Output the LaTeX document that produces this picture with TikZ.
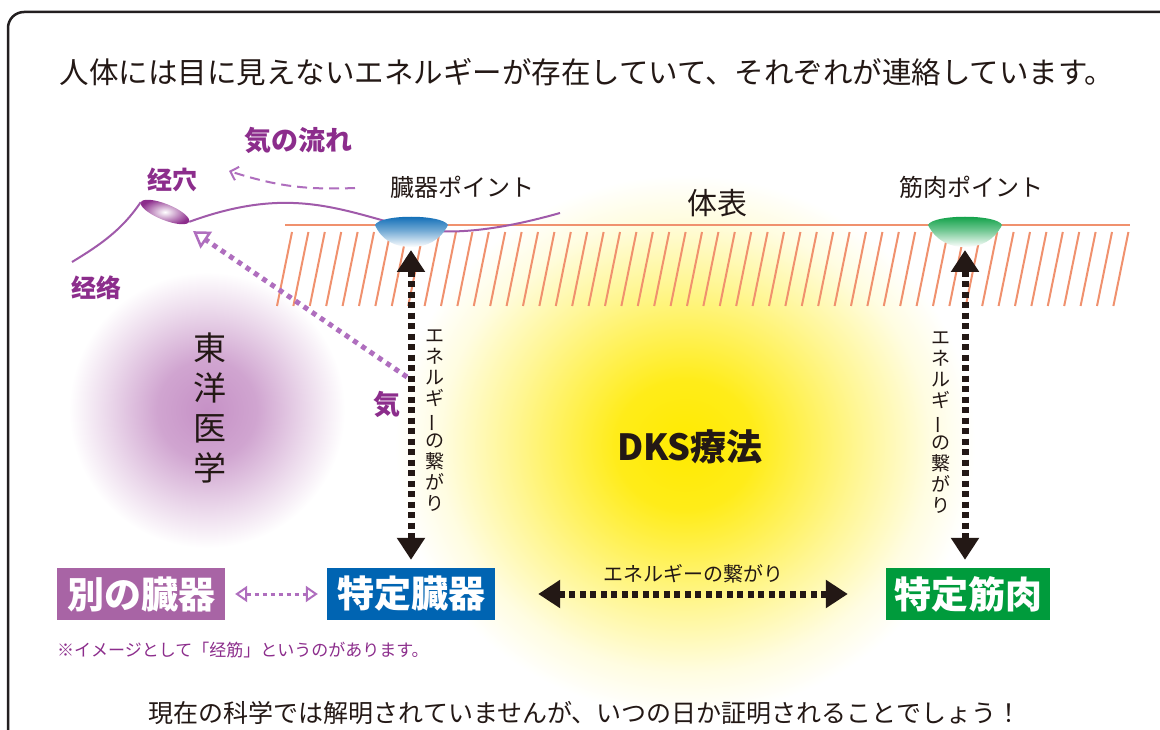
\documentclass[tikz,border=0pt]{standalone}
\usepackage{fontspec}
\setmainfont{Noto Sans CJK JP}
\usetikzlibrary{arrows.meta,shapes.geometric}
\definecolor{framegray}{RGB}{35, 31, 32}
\definecolor{skin}{RGB}{240, 145, 110}
\definecolor{meridian}{RGB}{160, 90, 170}
\definecolor{kipurple}{RGB}{140, 45, 140}
\definecolor{kiviolet}{RGB}{175, 110, 190}
\definecolor{organblue}{RGB}{0, 100, 178}
\definecolor{musclegreen}{RGB}{0, 155, 60}
\definecolor{otherpurple}{RGB}{168, 100, 165}
\definecolor{dksyellow}{RGB}{255, 234, 0}
\definecolor{glowpurple}{RGB}{198, 145, 198}
\definecolor{inkblack}{RGB}{35, 24, 21}
\pgfdeclareradialshading{dksglow}{\pgfpointorigin}{color(0bp)=(dksyellow); color(6bp)=(dksyellow!90); color(15bp)=(dksyellow!42); color(21bp)=(dksyellow!12); color(25bp)=(white); color(50bp)=(white)}
\pgfdeclareradialshading{toyoglow}{\pgfpointorigin}{color(0bp)=(glowpurple); color(9bp)=(glowpurple!82); color(18bp)=(glowpurple!35); color(25bp)=(white); color(50bp)=(white)}
\newcommand\tatebou{\rotatebox[origin=c]{90}{ー}}
\newcommand\fsz[1]{\fontsize{#1}{#1}\selectfont}
\tikzset{
  hatchline/.style={skin, line width=2pt},
  meridianline/.style={meridian, line width=2pt},
  energy/.style={inkblack, line width=7pt, dash pattern=on 6pt off 4.5pt, {Triangle[length=22pt,width=27pt]}-{Triangle[length=22pt,width=27pt]}},
  kiline/.style={kiviolet, line width=5pt, dash pattern=on 5pt off 5pt, -{Triangle[open,length=16pt,width=20pt,line width=2.5pt]}},
  flowline/.style={kiviolet, line width=2pt, dash pattern=on 10pt off 6pt, -{Straight Barb[length=7pt,width=14pt,line width=2pt]}},
  linkline/.style={kiviolet, line width=3pt, dash pattern=on 4pt off 4pt, {Triangle[open,length=12pt,width=16pt,line width=2pt]}-{Triangle[open,length=12pt,width=16pt,line width=2pt]}},
  organbox/.style={text=white, font=\fsz{37}\bfseries, minimum width=168pt, minimum height=52pt, inner sep=0pt},
  brush/.style={kipurple, font=\fsz{25}\bfseries, inner sep=0pt},
  label/.style={inkblack, inner sep=0pt},
  tate/.style={inkblack, align=center, inner sep=0pt, font=\fontsize{19}{21}\selectfont}
}
\begin{document}
\begin{tikzpicture}[x=1pt, y=-1pt]
\useasboundingbox (0,0) rectangle (1160,730);
\fill[white] (0,0) rectangle (1160,730);
\draw[framegray, line width=2.5pt, rounded corners=16pt] (8,760) -- (8,12) -- (1180,12);

\shade[shading=dksglow] (685,445) ellipse (290 and 270);
\shade[shading=toyoglow] (207,410) circle (138);

\foreach \i in {0,...,51}
  \draw[hatchline] (277+\i*16.4,306) -- ++(15,-74);
\draw[skin, line width=2.5pt] (285,225) -- (1130,225);

\node[ellipse, minimum width=52pt, minimum height=16pt, inner sep=0pt, rotate=-22,
      inner color=white, outer color=kipurple] (tsubo) at (165,212) {};
\coordinate (jlstart) at (72,262);
\draw[meridianline] (jlstart) .. controls (100,245) and (122,230) .. (tsubo.west);
\draw[meridianline] (tsubo.east) .. controls (290,185) and (340,210) .. (411,228)
      .. controls (450,236) and (500,230) .. (560,213);

\shade[top color=organblue, bottom color=white, middle color=organblue!55]
  (375,225) .. controls (380,214) and (442,214) .. (448,225)
  .. controls (440,241) and (426,247) .. (411,247)
  .. controls (396,247) and (382,241) .. (375,225) -- cycle;
\shade[top color=musclegreen, bottom color=white, middle color=musclegreen!55]
  (928,225) .. controls (933,214) and (997,214) .. (1002,225)
  .. controls (994,241) and (980,247) .. (965,247)
  .. controls (950,247) and (936,241) .. (928,225) -- cycle;
\coordinate (zokipt) at (411,248);
\coordinate (kinpt) at (965,248);

\node[organbox, fill=otherpurple] (betsu) at (141,594) {別の臓器};
\node[organbox, fill=organblue] (tokutei) at (411,594) {特定臓器};
\node[organbox, fill=musclegreen, minimum width=164pt] (kinniku) at (968,594) {特定筋肉};

\draw[energy, shorten <=2pt, shorten >=8pt] (zokipt) -- (tokutei.north);
\draw[energy, shorten <=2pt, shorten >=8pt] (kinpt) -- (kinniku.north -| kinpt);
\draw[energy, shorten <=43pt, shorten >=38pt] (tokutei.east) -- (kinniku.west);
\draw[linkline, shorten <=10pt, shorten >=9pt] (betsu.east) -- (tokutei.west);

\coordinate (kistart) at (407,377);
\draw[kiline, shorten >=12pt] (kistart) -- (tsubo);
\coordinate (flowstart) at (355,188);
\coordinate (flowend) at (229,171);
\draw[flowline] (flowstart) to[bend left=10] (flowend);

\node[label, font=\fsz{29.5}] (title) at (587,72) {人体には目に見えないエネルギーが存在していて、それぞれが連絡しています。};
\node[brush, font=\fsz{27}\bfseries] (nagare) at (298,140) {気の流れ};
\node[brush] (keiketsu) at (172,180) {经穴};
\node[brush] (keiraku) at (96,288) {经络};
\node[brush, font=\fsz{27}\bfseries] (ki) at (387,404) {気};
\node[label, font=\fsz{24}] (zokilabel) at (462,187) {臓器ポイント};
\node[label, font=\fsz{24}] (kinlabel) at (971,187) {筋肉ポイント};
\node[label, font=\fsz{30}] (taihyo) at (717,203) {体表};
\node[label, align=center, font=\fontsize{33}{40}\selectfont] (toyo) at (210,408) {東\\洋\\医\\学};
\node[label, font=\fsz{36}\bfseries] (dks) at (690,447) {DKS療法};
\node[tate] (tateL) at (435,421) {エ\\ネ\\ル\\ギ\\\tatebou\\の\\繋\\が\\り};
\node[tate] (tateR) at (941,423) {エ\\ネ\\ル\\ギ\\\tatebou\\の\\繋\\が\\り};
\node[label, font=\fsz{20}] (yokolabel) at (693,574) {エネルギーの繋がり};
\node[brush, font=\fsz{17}, anchor=west] (chu) at (57,650) {※イメージとして「经筋」というのがあります。};
\node[label, font=\fsz{25}] (closing) at (585,713) {現在の科学では解明されていませんが、いつの日か証明されることでしょう！};
\end{tikzpicture}
\end{document}
